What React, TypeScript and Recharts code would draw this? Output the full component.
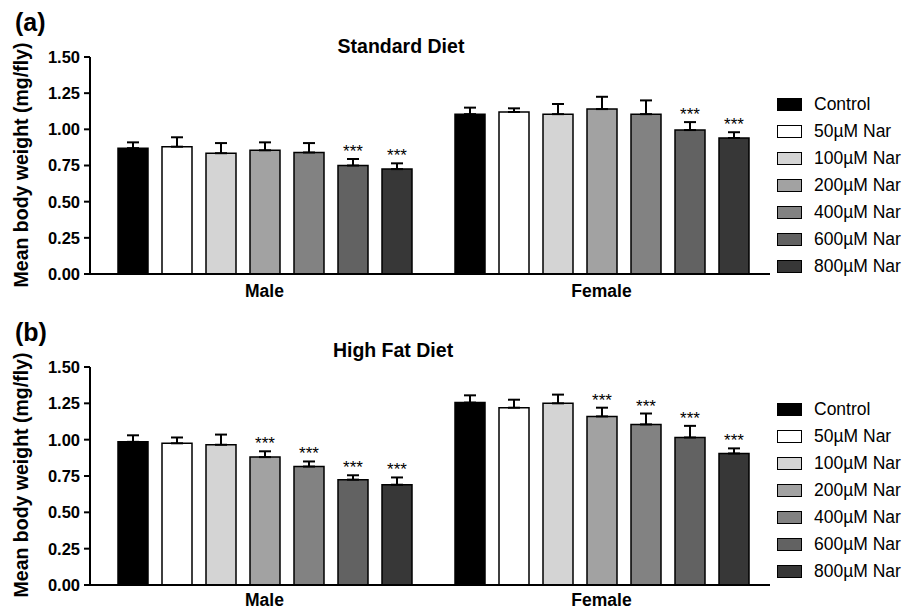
import React from 'react';
import { BarChart, Bar, XAxis, YAxis, ErrorBar, Legend } from 'recharts';

// Categories and treatment series
const groups = ['Male', 'Female'];
const treatments = ['Control', '50µM Nar', '100µM Nar', '200µM Nar', '400µM Nar', '600µM Nar', '800µM Nar'];
const fills = ['#000000', '#ffffff', '#d4d4d4', '#a2a2a2', '#828282', '#626262', '#373737'];
const yTicks = [0, 0.25, 0.5, 0.75, 1.0, 1.25, 1.5];

// (a) Standard diet: mean body weight (mg/fly) and SEM
const stdMale = [0.87, 0.88, 0.835, 0.855, 0.84, 0.75, 0.725];
const stdMaleErr = [0.04, 0.065, 0.07, 0.055, 0.065, 0.045, 0.04];
const stdMaleSig = [false, false, false, false, false, true, true];
const stdFemale = [1.105, 1.12, 1.105, 1.14, 1.105, 0.995, 0.94];
const stdFemaleErr = [0.045, 0.025, 0.07, 0.085, 0.095, 0.055, 0.04];
const stdFemaleSig = [false, false, false, false, false, true, true];

// (b) High fat diet
const hfdMale = [0.985, 0.975, 0.965, 0.88, 0.815, 0.725, 0.69];
const hfdMaleErr = [0.045, 0.04, 0.07, 0.04, 0.035, 0.03, 0.05];
const hfdMaleSig = [false, false, false, true, true, true, true];
const hfdFemale = [1.255, 1.22, 1.25, 1.16, 1.105, 1.015, 0.905];
const hfdFemaleErr = [0.05, 0.055, 0.06, 0.06, 0.075, 0.08, 0.035];
const hfdFemaleSig = [false, false, false, true, true, true, true];

const FONT = 'Arial, "Liberation Sans", Helvetica, sans-serif';

type Row = Record<string, any>;

const buildRows = (
  vals: number[][],
  errs: number[][],
  sigs: boolean[][],
): Row[] =>
  groups.map((group, g) => {
    const row: Row = { group };
    treatments.forEach((_, i) => {
      row[`t${i}`] = vals[g][i];
      row[`t${i}e`] = [0, errs[g][i]];
      row[`t${i}s`] = sigs[g][i];
    });
    return row;
  });

const stdRows = buildRows([stdMale, stdFemale], [stdMaleErr, stdFemaleErr], [stdMaleSig, stdFemaleSig]);
const hfdRows = buildRows([hfdMale, hfdFemale], [hfdMaleErr, hfdFemaleErr], [hfdMaleSig, hfdFemaleSig]);

// "***" placed just above the error bar cap, using the bar's own pixel scale
const starLabel = (rows: Row[], key: string) => (props: any) => {
  const vb = props.viewBox && props.viewBox.width != null ? props.viewBox : props;
  const row = rows[props.index];
  if (!row || !row[`${key}s`]) return null;
  const { x, y, width, height } = vb;
  const perUnit = height / row[key];
  const capY = y - row[`${key}e`][1] * perUnit;
  return (
    <text
      x={x + width / 2}
      y={capY - 2}
      textAnchor="middle"
      fontSize={17}
      fontFamily={FONT}
      fill="#000"
    >
      ***
    </text>
  );
};

const LegendBox = () => (
  <div style={{ fontFamily: FONT }}>
    {treatments.map((t, i) => (
      <div key={t} style={{ display: 'flex', alignItems: 'center', height: 27 }}>
        <div
          style={{
            width: 23,
            height: 11,
            background: fills[i],
            border: '1.5px solid #000',
          }}
        />
        <span style={{ marginLeft: 12, fontSize: 17.5, color: '#000', whiteSpace: 'nowrap' }}>{t}</span>
      </div>
    ))}
  </div>
);

interface PanelProps {
  rows: Row[];
  top: number;
  marginTop: number;
  axisHeight: number;
  labelGap: number;
  legendTop: number;
}

const Panel: React.FC<PanelProps> = ({ rows, top, marginTop, axisHeight, labelGap, legendTop }) => (
  <div style={{ position: 'absolute', left: 0, top }}>
    <BarChart
      width={907}
      height={305}
      data={rows}
      margin={{ top: marginTop, right: 137, bottom: 0, left: 0 }}
      barCategoryGap={22}
      barGap={14}
    >
      <XAxis
        dataKey="group"
        type="category"
        padding={{ left: 6, right: 0 }}
        height={axisHeight}
        tickLine={false}
        tickSize={6}
        tickMargin={labelGap}
        axisLine={{ stroke: '#000', strokeWidth: 2 }}
        tick={{ fill: '#000', fontSize: 17.5, fontWeight: 700, fontFamily: FONT }}
      />
      <YAxis
        domain={[0, 1.5]}
        ticks={yTicks}
        interval={0}
        width={90}
        tickSize={6}
        tickMargin={4}
        tickFormatter={(v: number) => v.toFixed(2)}
        axisLine={{ stroke: '#000', strokeWidth: 2 }}
        tickLine={{ stroke: '#000', strokeWidth: 2 }}
        tick={{ fill: '#000', fontSize: 16.5, fontWeight: 700, fontFamily: FONT }}
      />
      <Legend
        layout="vertical"
        align="center"
        verticalAlign="middle"
        content={() => <LegendBox />}
        wrapperStyle={{ left: 777, top: legendTop, width: 130 }}
      />
      {treatments.map((t, i) => (
        <Bar
          key={t}
          dataKey={`t${i}`}
          name={t}
          fill={fills[i]}
          stroke="#000"
          strokeWidth={1.5}
          isAnimationActive={false}
          label={starLabel(rows, `t${i}`)}
        >
          <ErrorBar
            dataKey={`t${i}e`}
            direction="y"
            width={6}
            stroke="#000"
            strokeWidth={2}
            isAnimationActive={false}
          />
        </Bar>
      ))}
    </BarChart>
  </div>
);

const YLabel = ({ cy }: { cy: number }) => (
  <text
    x={28}
    y={cy}
    transform={`rotate(-90, 28, ${cy})`}
    textAnchor="middle"
    fontSize={19.5}
    fontWeight={700}
    fontFamily={FONT}
  >
    Mean body weight (mg/fly)
  </text>
);

export default function App() {
  return (
    <div
      style={{
        position: 'absolute',
        left: 0,
        top: 0,
        width: 907,
        height: 610,
        background: '#fff',
        overflow: 'hidden',
      }}
    >
      <Panel rows={stdRows} top={0} marginTop={57} axisHeight={31} labelGap={5} legendTop={91} />
      <Panel rows={hfdRows} top={305} marginTop={62} axisHeight={25} labelGap={3} legendTop={91} />
      <svg
        width={907}
        height={610}
        style={{ position: 'absolute', left: 0, top: 0, pointerEvents: 'none' }}
      >
        <text x={15} y={31} fontSize={25} fontWeight={700} fontFamily={FONT}>(a)</text>
        <text x={401} y={53} textAnchor="middle" fontSize={19.5} fontWeight={700} fontFamily={FONT}>
          Standard Diet
        </text>
        <YLabel cy={165} />
        <text x={15} y={341} fontSize={25} fontWeight={700} fontFamily={FONT}>(b)</text>
        <text x={393} y={357} textAnchor="middle" fontSize={19.5} fontWeight={700} fontFamily={FONT}>
          High Fat Diet
        </text>
        <YLabel cy={475} />
      </svg>
    </div>
  );
}
